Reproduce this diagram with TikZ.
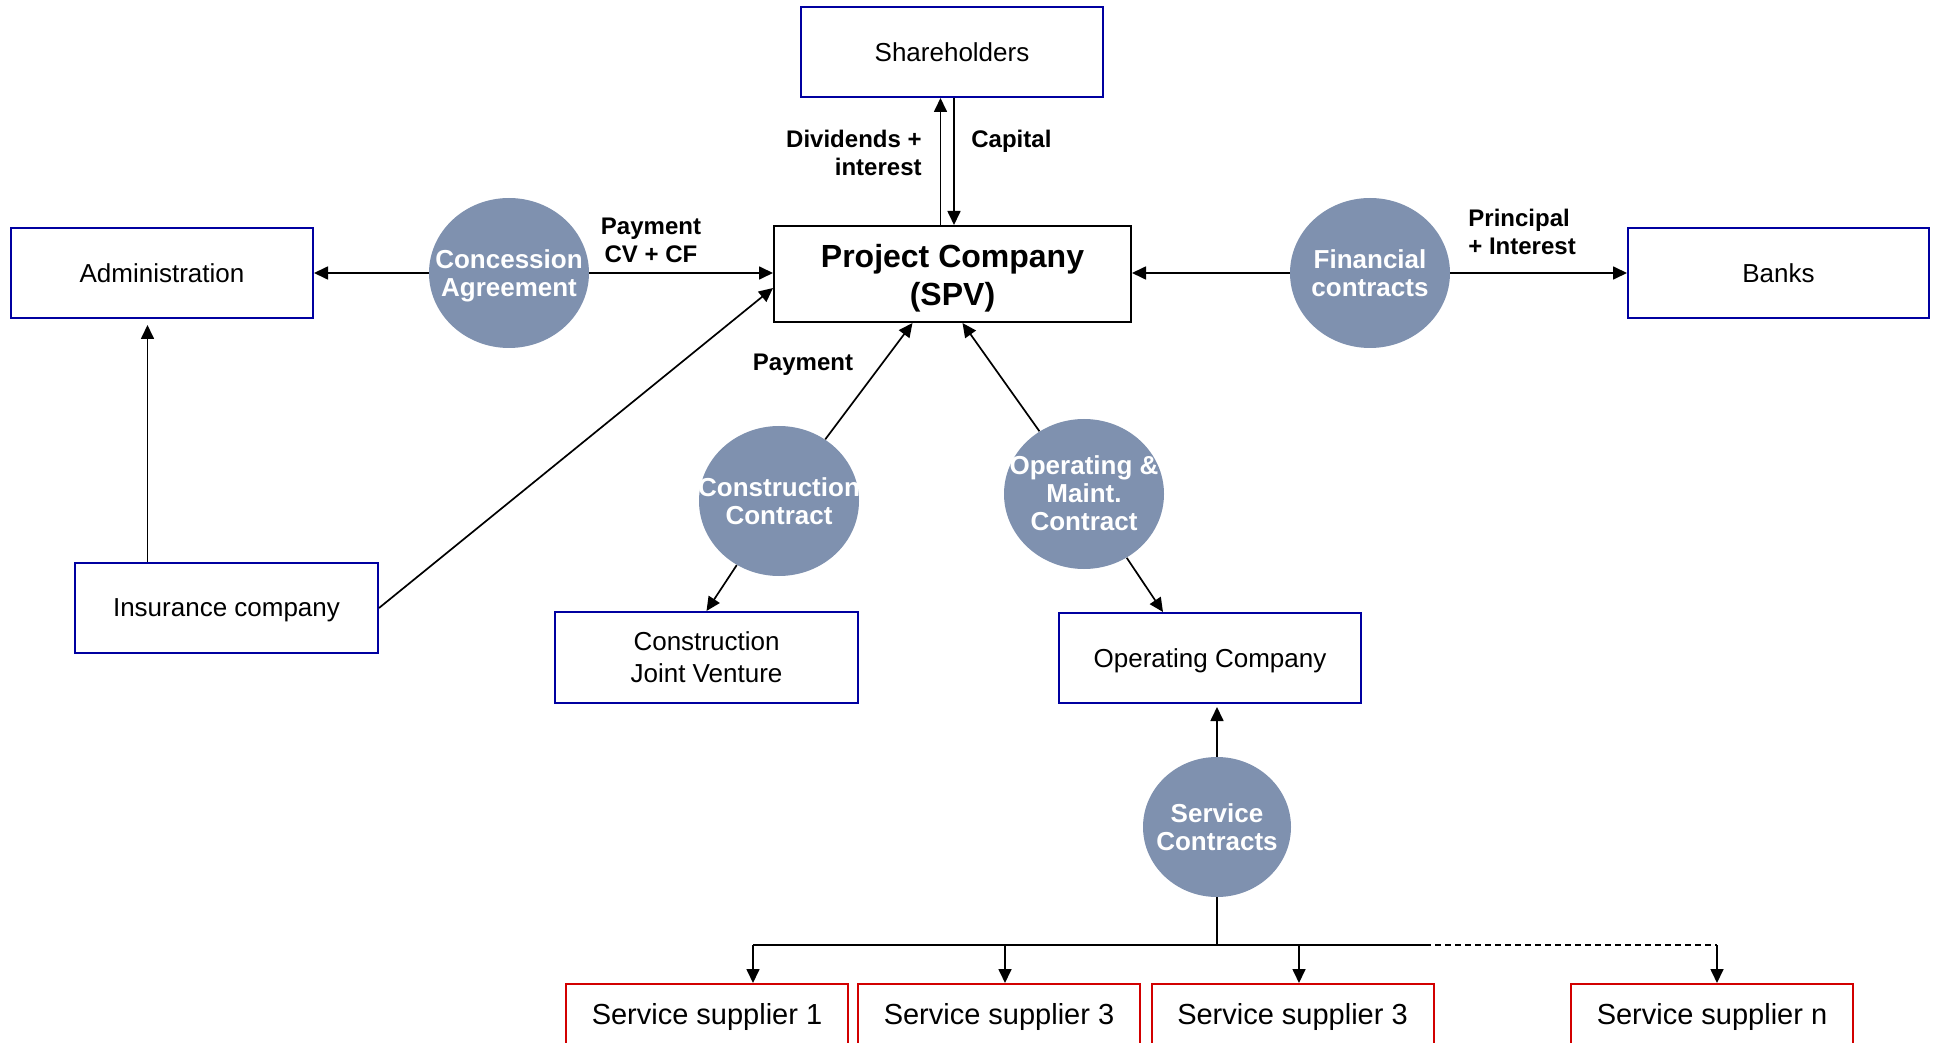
\documentclass[tikz,border=0pt]{standalone}
\usepackage{fontspec}
\setmainfont{Liberation Sans}
\usetikzlibrary{arrows.meta,calc,shapes.geometric}
\definecolor{ellfill}{RGB}{127,145,175}
\definecolor{boxblue}{RGB}{0,0,160}
\definecolor{boxred}{RGB}{210,0,0}
\begin{document}
\begin{tikzpicture}[x=0.5pt,y=-0.5pt,
  bluebox/.style={draw=boxblue, line width=1pt, fill=white, rectangle, inner sep=0pt, align=center, text depth=0pt,
    minimum width=151pt, minimum height=45pt, font=\fontsize{13}{16}\selectfont},
  redbox/.style={draw=boxred, line width=1pt, fill=white, rectangle, inner sep=0pt,
    minimum width=141pt, minimum height=33pt, font=\fontsize{14.5}{17}\selectfont},
  spvbox/.style={draw=black, line width=1pt, fill=white, rectangle, inner sep=0pt, align=center,
    minimum width=178.5pt, minimum height=48pt, font=\fontsize{16}{19}\selectfont\bfseries},
  ell/.style={ellipse, fill=ellfill, draw=none, inner sep=0pt, minimum width=80pt, minimum height=75pt},
  elltext/.style={text=white, align=center, inner sep=0pt, font=\fontsize{13}{14}\selectfont\bfseries},
  lbl/.style={inner sep=0pt, font=\fontsize{12}{14}\selectfont\bfseries},
  conn/.style={line width=0.85pt},
  arr/.style={conn, -{Triangle[length=7pt,width=6.5pt]}}
]
\useasboundingbox (0,0) rectangle (1935,1043);
\clip (0,0) rectangle (1935,1043);

% boxes
\node[bluebox] (sh) at (952,52) {Shareholders};
\node[bluebox] (admin) at (162,273) {Administration};
\node[spvbox] (spv) at (952.5,274) {};
\node[inner sep=0pt, align=center, font=\fontsize{16}{19}\selectfont\bfseries] (spvtext) at ($(spv)+(0,4)$) {Project Company\\(SPV)};
\node[bluebox, minimum width=150.5pt] (banks) at (1778.5,273) {Banks};
\node[bluebox, minimum width=151.5pt] (ins) at (226.5,608) {Insurance company};
\node[bluebox, minimum width=151.5pt, minimum height=45.5pt] (jv) at (706.5,657.5) {Construction\\Joint Venture};
\node[bluebox] (opc) at (1210,658) {Operating Company};

\node[redbox] (s1) at (707,1017) {Service supplier 1};
\node[redbox] (s2) at (999,1017) {Service supplier 3};
\node[redbox] (s3) at (1292.5,1017) {Service supplier 3};
\node[redbox] (sn) at (1712,1017) {Service supplier n};

% ellipses
\node[ell] (cag) at (509,273) {};
\node[elltext] at ($(cag)+(0,2.5)$) {Concession\\Agreement};
\node[ell] (fin) at (1370,273) {};
\node[elltext] at (fin) {Financial\\contracts};
\node[ell] (cc) at (779,501) {};
\node[elltext] at (cc) {Construction\\Contract};
\node[ell] (om) at (1084,494) {};
\node[elltext] at ($(om)+(0,-1)$) {Operating \&\\Maint.\\Contract};
\node[ell, minimum width=74pt, minimum height=70pt] (sc) at (1217,827) {};
\node[elltext] at (sc) {Service\\Contracts};

% labels
\node[lbl, anchor=east, align=right] (divlbl) at (922,152.5) {Dividends +\\interest};
\node[lbl, anchor=west] (caplbl) at (971,141) {Capital};
\node[lbl, align=center] (paylbl) at (651,240.5) {Payment\\CV + CF};
\node[lbl, anchor=west, align=left] (prlbl) at (1468,231.5) {Principal\\+ Interest};
\node[lbl] (pay2) at (803,365) {Payment};

% shareholders arrows
\coordinate (upx) at ($(spv.north)+(-12,0)$);
\coordinate (dnx) at ($(sh.south)+(2,0)$);
\draw[arr] (upx) -- (upx |- sh.south);
\draw[arr] (dnx) -- (dnx |- spv.north);

% concession
\draw[arr] (cag.west) -- (cag.west -| admin.east);
\draw[arr] (cag.east) -- (cag.east -| spv.west);

% financial
\draw[arr] (fin.west) -- (fin.west -| spv.east);
\draw[arr] (fin.east) -- (fin.east -| banks.west);

% insurance
\coordinate (insup) at ($(ins.north)+(-79,0)$);
\draw[arr, shorten >=3pt] (insup) -- (insup |- admin.south);
\draw[arr] (ins.east) -- ($(spv.west)+(0,14)$);

% construction
\draw[arr] (cc) -- ($(spv.south)+(-40,0)$);
\draw[arr] (cc) -- (jv.north);

% O&M
\draw[arr] (om) -- ($(spv.south)+(10,0)$);
\draw[arr] (om) -- ($(opc.north)+(-47,0)$);

% service contracts
\draw[arr, shorten >=1.5pt] (sc.north) -- (sc.north |- opc.south);
\coordinate (bus) at ($(sc.south)+(0,48)$);
\coordinate (b1) at (753,945);
\coordinate (b2) at (1005,945);
\coordinate (b3) at (1299,945);
\coordinate (bsol) at (1425,945);
\coordinate (bn) at (1717,945);
\draw[conn] (sc.south) -- (bus);
\draw[conn] (b1) -- (bsol);
\draw[conn, dash pattern=on 3pt off 2pt] (bsol) -- (bn);
\draw[arr] (b1) -- (b1 |- s1.north);
\draw[arr] (b2) -- (b2 |- s2.north);
\draw[arr] (b3) -- (b3 |- s3.north);
\draw[arr] (bn) -- (bn |- sn.north);
\end{tikzpicture}
\end{document}
